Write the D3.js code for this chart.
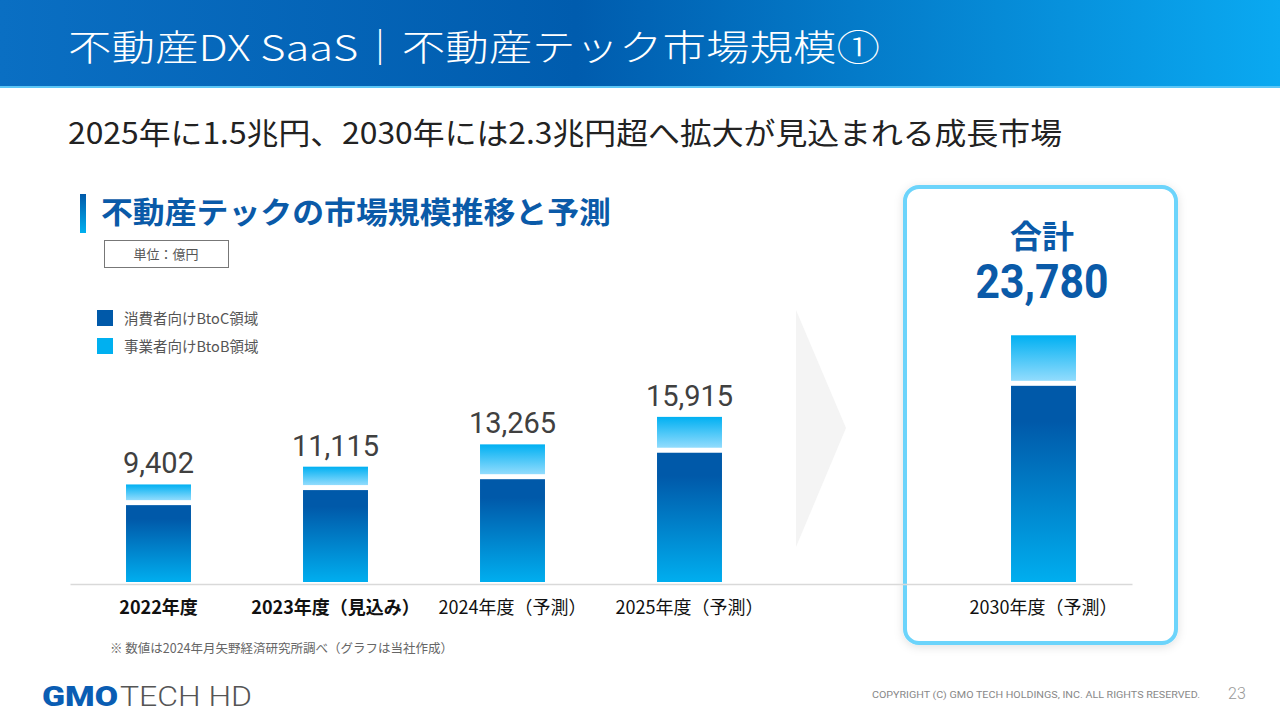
<!DOCTYPE html>
<html>
<head>
<meta charset="utf-8">
<script src="https://cdn.jsdelivr.net/npm/d3@7"></script>
<style>
  body { margin: 0; background: #fff; }
  svg { display: block; font-family: "Noto Sans CJK JP", "Noto Sans", sans-serif; }
</style>
</head>
<body>
<svg id="slide" width="1280" height="720"></svg>
<script>
(function(){
  'use strict';

  // values (億円)
  var years = ['2022年度', '2023年度（見込み）', '2024年度（予測）', '2025年度（予測）', '2030年度（予測）'];
  var btocVals = [7650, 9100, 10150, 12700, 19150];
  var btobVals = [1752, 2015, 3115, 3215, 4630];
  var totalVals = [9402, 11115, 13265, 15915, 23780];
  var seriesNames = ['消費者向けBtoC領域', '事業者向けBtoB領域'];
  var boldYears = ['2022年度', '2023年度（見込み）'];

  var svg = d3.select('#slide');
  var defs = svg.append('defs');

  function grad(id, stops, horiz) {
    var g = defs.append('linearGradient').attr('id', id)
      .attr('x1', 0).attr('y1', 0)
      .attr('x2', horiz ? 1 : 0).attr('y2', horiz ? 0 : 1);
    stops.forEach(function(s) {
      g.append('stop').attr('offset', s[0]).attr('stop-color', s[1]);
    });
  }
  grad('hdr', [[0, '#0a6fc3'], [0.45, '#005cae'], [1, '#0aa9f1']], true);
  grad('btoc', [[0, '#0059a9'], [0.18, '#0059a9'], [1, '#00aeef']]);
  grad('btob', [[0, '#00b0f2'], [1, '#92dcfd']]);
  grad('accent', [[0, '#0059a9'], [1, '#00b0f0']]);

  var sh = defs.append('filter').attr('id', 'shadow')
    .attr('x', '-10%').attr('y', '-10%').attr('width', '120%').attr('height', '120%');
  sh.append('feDropShadow').attr('dx', 0).attr('dy', 2).attr('stdDeviation', 5)
    .attr('flood-color', '#000').attr('flood-opacity', 0.12);

  // header
  svg.append('rect').attr('x', 0).attr('y', 0).attr('width', 1280).attr('height', 86)
    .attr('fill', 'url(#hdr)');
  svg.append('rect').attr('x', 0).attr('y', 86).attr('width', 1280).attr('height', 2)
    .attr('fill', '#5cc6f6');
  svg.append('text').attr('x', 68).attr('y', 61)
    .attr('font-size', 36).attr('font-weight', 300).attr('fill', '#fff')
    .attr('textLength', 812).attr('lengthAdjust', 'spacingAndGlyphs')
    .text('不動産DX SaaS｜不動産テック市場規模①');

  svg.append('text').attr('x', 68).attr('y', 144)
    .attr('font-size', 30).attr('fill', '#222')
    .attr('textLength', 994).attr('lengthAdjust', 'spacingAndGlyphs')
    .text('2025年に1.5兆円、2030年には2.3兆円超へ拡大が見込まれる成長市場');

  // section title
  svg.append('rect').attr('x', 80).attr('y', 194).attr('width', 6).attr('height', 39)
    .attr('fill', 'url(#accent)');
  svg.append('text').attr('x', 101).attr('y', 223)
    .attr('font-size', 30).attr('font-weight', 700).attr('fill', '#0a5aa8')
    .attr('textLength', 510).attr('lengthAdjust', 'spacingAndGlyphs')
    .text('不動産テックの市場規模推移と予測');

  svg.append('rect').attr('x', 104.5).attr('y', 240.5).attr('width', 124).attr('height', 27)
    .attr('fill', '#fff').attr('stroke', '#777').attr('stroke-width', 1);
  svg.append('text').attr('x', 166).attr('y', 259).attr('text-anchor', 'middle')
    .attr('font-size', 13).attr('fill', '#555').text('単位：億円');

  // legend
  var legend = svg.append('g').selectAll('g').data(seriesNames).enter().append('g')
    .attr('transform', function(d, i) { return 'translate(97,' + (310 + i * 28) + ')'; });
  legend.append('rect').attr('width', 16).attr('height', 16)
    .attr('fill', function(d, i) { return i === 0 ? '#0059a9' : '#00b0f0'; });
  legend.append('text').attr('x', 27).attr('y', 13.5)
    .attr('font-size', 14.5).attr('fill', '#555').text(function(d) { return d; });

  // arrow between history and 2030
  svg.append('polygon').attr('points', '796,310 846,428 796,547').attr('fill', '#f4f4f4');

  // 2030 card
  svg.append('rect').attr('x', 905).attr('y', 187).attr('width', 271).attr('height', 456)
    .attr('rx', 14).attr('fill', '#fff').attr('stroke', '#6cd4fb').attr('stroke-width', 4)
    .attr('filter', 'url(#shadow)');
  svg.append('text').attr('x', 1042).attr('y', 248).attr('text-anchor', 'middle')
    .attr('font-size', 32).attr('font-weight', 700).attr('fill', '#0a5aa8').text('合計');
  svg.append('text').attr('x', 1042).attr('y', 298).attr('text-anchor', 'middle')
    .attr('font-family', 'Roboto, "Noto Sans", sans-serif')
    .attr('font-size', 48).attr('font-weight', 700).attr('fill', '#0a5aa8')
    .attr('textLength', 133).attr('lengthAdjust', 'spacingAndGlyphs')
    .text(d3.format(',')(totalVals[4]));

  // scales
  var slots = years.slice(0, 4).concat(['spacer'], years.slice(4));
  var x = d3.scaleBand().domain(slots).range([70, 1132])
    .paddingInner(0.633).paddingOuter(0.3165);
  var y = d3.scaleLinear().domain([0, 24000]).range([582, 333]);
  var gap = 2.5;

  var rows = years.map(function(d, i) {
    return { year: d, btoc: btocVals[i], btob: btobVals[i], total: totalVals[i] };
  });

  var bars = svg.append('g').selectAll('g').data(rows).enter().append('g')
    .attr('transform', function(d) { return 'translate(' + x(d.year) + ',0)'; });

  bars.append('rect').attr('class', 'btoc')
    .attr('y', function(d) { return y(d.btoc) + gap; })
    .attr('width', x.bandwidth())
    .attr('height', function(d) { return y(0) - y(d.btoc) - gap; })
    .attr('fill', 'url(#btoc)');

  bars.append('rect').attr('class', 'btob')
    .attr('y', function(d) { return y(d.btoc + d.btob); })
    .attr('width', x.bandwidth())
    .attr('height', function(d) { return y(d.btoc) - y(d.btoc + d.btob) - gap; })
    .attr('fill', 'url(#btob)');

  bars.filter(function(d, i) { return i < 4; }).append('text')
    .attr('x', x.bandwidth() / 2)
    .attr('y', function(d) { return y(d.total) - 11; })
    .attr('text-anchor', 'middle')
    .attr('font-family', 'Roboto, "Noto Sans", sans-serif')
    .attr('font-size', 29).attr('fill', '#404040')
    .text(function(d) { return d3.format(',')(d.total); });

  // baseline + category labels
  var xAxis = d3.axisBottom(x).tickSize(0).tickSizeOuter(0).tickPadding(17);
  var ax = svg.append('g').attr('transform', 'translate(0,584)').call(xAxis);
  ax.select('.domain').attr('stroke', '#d9d9d9').attr('stroke-width', 1.5);
  ax.selectAll('.tick').filter(function(d) { return d === 'spacer'; }).remove();
  ax.selectAll('.tick text')
    .attr('font-family', '"Noto Sans CJK JP", sans-serif')
    .attr('font-size', 18).attr('fill', '#111')
    .attr('font-weight', function(d) { return boldYears.indexOf(d) >= 0 ? 700 : 400; });

  svg.append('text').attr('x', 110).attr('y', 653)
    .attr('font-size', 12.5).attr('fill', '#666')
    .text('※ 数値は2024年月矢野経済研究所調べ（グラフは当社作成）');

  // footer
  svg.append('text').attr('x', 42).attr('y', 706)
    .attr('font-family', 'Roboto, sans-serif').attr('font-size', 28).attr('font-weight', 900)
    .attr('fill', '#0a5db3').attr('textLength', 76).attr('lengthAdjust', 'spacingAndGlyphs')
    .text('GMO');
  svg.append('text').attr('x', 120).attr('y', 706)
    .attr('font-family', 'Roboto, sans-serif').attr('font-size', 28).attr('font-weight', 300)
    .attr('fill', '#555').attr('textLength', 132).attr('lengthAdjust', 'spacingAndGlyphs')
    .text('TECH HD');
  svg.append('text').attr('x', 872).attr('y', 698)
    .attr('font-family', 'Roboto, sans-serif').attr('font-size', 9.5).attr('fill', '#888')
    .attr('textLength', 328).attr('lengthAdjust', 'spacingAndGlyphs')
    .text('COPYRIGHT (C) GMO TECH HOLDINGS, INC. ALL RIGHTS RESERVED.');
  svg.append('text').attr('x', 1228).attr('y', 699)
    .attr('font-family', 'Roboto, sans-serif').attr('font-size', 16).attr('font-weight', 300)
    .attr('fill', '#999').text('23');
}());
</script>
</body>
</html>
